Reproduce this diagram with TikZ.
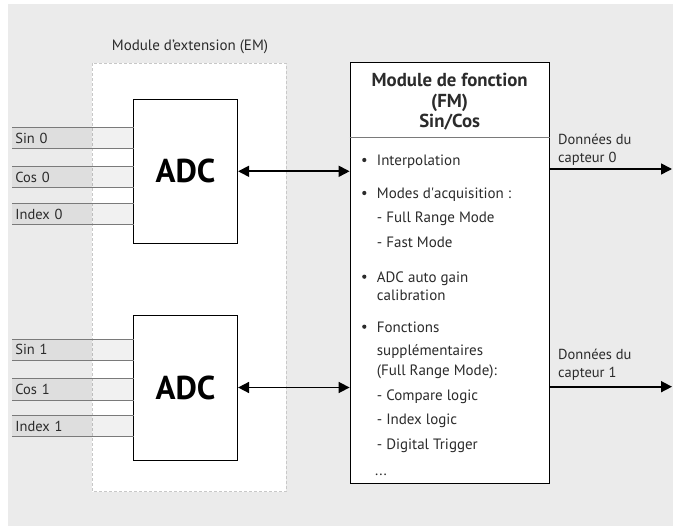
\documentclass[tikz,border=0pt]{standalone}
\usepackage{fontspec}
\setmainfont{PT Sans}
\usetikzlibrary{arrows.meta,calc}
\definecolor{bg}{HTML}{EBEBEB}
\definecolor{dashgray}{HTML}{C8C8C8}
\definecolor{bandline}{HTML}{7A7A7A}
\definecolor{txt}{HTML}{2B2B2B}
\tikzset{
  fs/.style={font=\fontsize{#1}{#1}\selectfont},
  adcbox/.style={draw=black, line width=0.8pt, fill=white, minimum width=104.4pt,
    minimum height=144pt, inner sep=0pt, font=\fontsize{33}{33}\selectfont\bfseries},
  band/.style={anchor=north west, fill=black, fill opacity=0.055, text opacity=1,
    minimum width=121.3pt, minimum height=21pt, inner sep=0pt, text width=118pt,
    align=left, text=txt, fs=14.5},
  bandedge/.style={draw=bandline, line width=0.8pt},
  link/.style={line width=1.6pt, {Triangle[length=11pt,width=11pt]}-{Triangle[length=11pt,width=11pt]}},
  outlink/.style={line width=1.6pt, -{Triangle[length=11pt,width=11pt]}},
  item/.style={anchor=base west, inner sep=0pt, text=txt, fs=15},
  dot/.style={circle, fill=txt, minimum size=4.2pt, inner sep=0pt},
  outlbl/.style={anchor=west, inner sep=0pt, align=left, text=txt, fs=14.5,
    execute at begin node=\setlength{\baselineskip}{18.5pt}},
}
\begin{document}
\begin{tikzpicture}[x=1pt,y=-1pt]
\useasboundingbox (0,0) rectangle (677,526);
\fill[bg] (8,4) rectangle (673,526);

% extension module frame
\draw[draw=dashgray, dash pattern=on 3pt off 2pt, fill=white, line width=0.8pt]
  (92.3,63.3) rectangle (286,491.7);
\node[text=txt, fs=15] (emlbl) at (190,47) {Module d’extension (EM)};

% converters
\node[adcbox] (adc0) at (185.5,171.3) {ADC};
\node[adcbox, minimum height=145pt] (adc1) at (185.5,387.5) {ADC};

% analog input bands
\foreach \yy/\lbl/\nm in {127.3/Sin 0/s0, 166.5/Cos 0/c0, 203.5/Index 0/i0,
                          339/Sin 1/s1, 378.5/Cos 1/c1, 415.3/Index 1/i1}{
  \node[band] (\nm) at (12,\yy) {\hspace*{1.5pt}\lbl};
  \draw[bandedge] (\nm.north west) -- (\nm.north east);
  \draw[bandedge] (\nm.south west) -- (\nm.south east);
}

% function module
\node[draw=black, line width=0.8pt, fill=white, minimum width=199.3pt,
  minimum height=420.6pt, inner sep=0pt] (fm) at (449.65,273) {};
\draw[draw=bandline, line width=0.8pt] ($(fm.north west)+(0,75.6)$) -- ($(fm.north east)+(0,75.6)$);
\node[align=center, text=txt, font=\fontsize{18.8}{20.5}\selectfont\bfseries] (fmhdr)
  at (449.65,102) {Module de fonction\\(FM)\\Sin/Cos};

% feature list
\foreach \yy/\t in {165.7/Interpolation, 198.7/Modes d\textquotesingle acquisition :,
                    282.4/ADC auto gain, 332.4/Fonctions}{
  \node[dot] at (364.3,\yy-5.7) {};
  \node[item] at (376.7,\yy) {\t};
}
\foreach \yy/\t in {222.4/- Full Range Mode, 247.4/- Fast Mode, 300.7/calibration,
                    355.7/supplémentaires, 375.7/(Full Range Mode):,
                    400.7/- Compare logic, 424/- Index logic, 449/- Digital Trigger}{
  \node[item] at (376.7,\yy) {\t};
}
\node[item] at (375,475.7) {...};

% links between converters and function module
\draw[link] (adc0.east) -- (fm.west |- adc0.east);
\draw[link] (adc1.east) -- (fm.west |- adc1.east);

% sensor data outputs
\coordinate (out0) at (672,169);
\coordinate (out1) at (672,386.7);
\draw[outlink] (fm.east |- out0) -- (out0);
\draw[outlink] (fm.east |- out1) -- (out1);
\node[outlbl] (d0) at (558,149.5) {Données du\\capteur 0};
\node[outlbl] (d1) at (558,364.5) {Données du\\capteur 1};
\end{tikzpicture}
\end{document}
